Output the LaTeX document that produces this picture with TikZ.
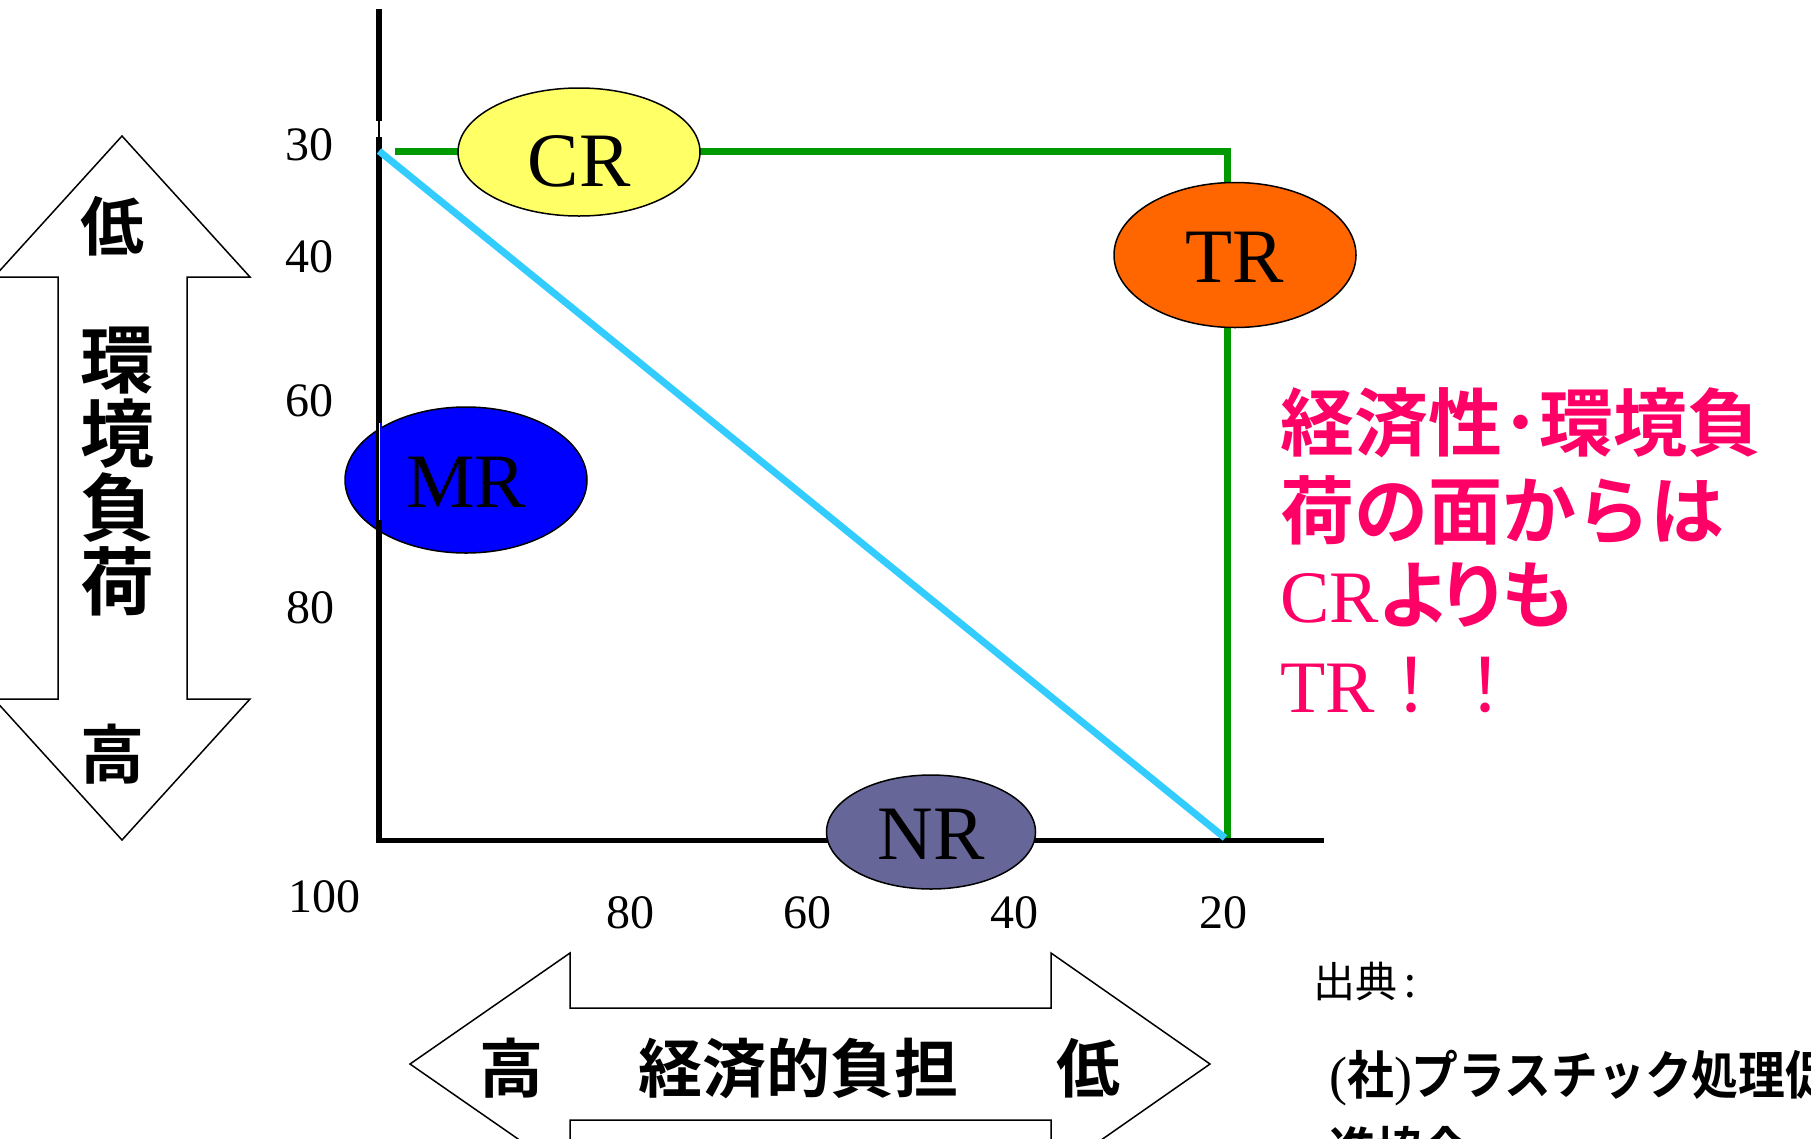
\documentclass[tikz,border=0pt]{standalone}
\usepackage{fontspec}
\setmainfont{Liberation Serif}
\newfontfamily\jpb{Noto Sans CJK JP Bold}
\newfontfamily\jpbp[RawFeature=+palt]{Noto Sans CJK JP Bold}
\newfontfamily\jpbc[FakeStretch=0.9]{Noto Sans CJK JP Bold}
\newfontfamily\jpr{Noto Sans CJK JP}
\usetikzlibrary{shapes.geometric}
\pgfdeclarelayer{bg}
\pgfsetlayers{bg,main}
\definecolor{crY}{HTML}{FFFF66}
\definecolor{trO}{HTML}{FF6600}
\definecolor{mrB}{HTML}{0000FF}
\definecolor{nrP}{HTML}{666699}
\definecolor{grn}{HTML}{009900}
\definecolor{cyn}{HTML}{33CCFF}
\definecolor{pnk}{HTML}{FF0066}
\tikzset{
  blob/.style={ellipse, draw=black, line width=1.5pt, inner sep=0pt,
    font=\fontsize{77}{80}\selectfont, text height=55pt, text depth=0pt},
  tick/.style={inner sep=0pt, font=\fontsize{48}{50}\selectfont},
  bigarrow/.style={draw=black, line width=1.5pt, fill=white, line join=miter},
  jpmid/.style={inner sep=0pt, font=\jpb\fontsize{64}{64}\selectfont},
  redline/.style={inner sep=0pt, anchor=base west, text=pnk, font=\jpb\fontsize{74}{80}\selectfont},
  axisline/.style={line width=6pt, black},
}
\begin{document}
\begin{tikzpicture}[x=1pt,y=-1pt]
\useasboundingbox (0,0) rectangle (1811,1138);
\begin{pgfonlayer}{bg}
  \fill[white] (0,0) rectangle (1811,1138);
\end{pgfonlayer}

% left vertical double arrow
\draw[bigarrow] (122,136) -- (250,277) -- (187,277) -- (187,699) -- (250,699) -- (122,840)
  -- (-6,699) -- (58,699) -- (58,277) -- (-6,277) -- cycle;
\node[jpmid] (lowL) at (112,226) {低};
\node[inner sep=0pt, align=center, font=\jpb\fontsize{74}{74}\selectfont] (envload) at (117,472) {環\\境\\負\\荷};
\node[jpmid] (highL) at (112,754) {高};

% bottom horizontal double arrow
\draw[bigarrow] (410,1064) -- (570,953) -- (570,1008) -- (1051,1008) -- (1051,953) -- (1210,1064)
  -- (1051,1175) -- (1051,1120) -- (570,1120) -- (570,1175) -- cycle;
\node[jpmid] (highB) at (511,1068) {高};
\node[jpmid] (econ) at (798,1068) {経済的負担};
\node[jpmid] (lowB) at (1088,1068) {低};

% tick labels
\node[tick] (y30) at (309,145) {30};
\node[tick] (y40) at (309,257) {40};
\node[tick] (y60) at (309,401) {60};
\node[tick] (y80) at (310,608) {80};
\node[tick] (y100) at (324,897) {100};
\node[tick] (x80) at (630,913) {80};
\node[tick] (x60) at (807,913) {60};
\node[tick] (x40) at (1014,913) {40};
\node[tick] (x20) at (1223,913) {20};

% ellipses
\node[blob, fill=crY, minimum width=242pt, minimum height=128pt, text height=68pt] (CR) at (579,152) {CR};
\node[blob, fill=trO, minimum width=242pt, minimum height=145pt] (TR) at (1235,255) {TR};
\node[blob, fill=mrB, minimum width=242pt, minimum height=146pt] (MR) at (466,480) {MR};
\node[blob, fill=nrP, minimum width=209pt, minimum height=114pt] (NR) at (931,832) {NR};

% axes and lines
\coordinate (yTop) at (379,9);
\coordinate (yGapA) at (379,121);
\coordinate (yGapB) at (379,137);
\coordinate (origin) at (379,843);
\coordinate (xStart) at (376,840);
\coordinate (xEnd) at (1324,840);
\coordinate (gStart) at (395,151);
\coordinate (gCorner) at (1227,151);
\coordinate (gEnd) at (1227,840);
\coordinate (cStart) at (379,151);
\coordinate (cEnd) at (1225,838);
\begin{pgfonlayer}{bg}
  \draw[grn, line width=7pt, line join=miter] (gStart) -- (gCorner) -- (gEnd);
  \draw[line width=5pt, black] (xStart) -- (xEnd);
\end{pgfonlayer}
\draw[axisline] (yTop) -- (yGapA);
\draw[line width=1.5pt, black] (yGapA) -- (yGapB);
\draw[axisline] (yGapB) -- (origin);
\draw[mrB, line width=2.4pt] (381,423) -- (381,520);
\draw[white, line width=1.2pt] (379.4,423) -- (379.4,520);
\draw[cyn, line width=7pt] (cStart) -- (cEnd);

% red comment
\node[redline] (red1) at (1280,450) {経済性･環境負};
\node[redline] (red2) at (1280,538) {荷の面からは};
\node[redline] (red3) at (1280,622) {{\rmfamily CR}{\jpbp よりも}};
\node[redline] (red4) at (1280,712) {{\rmfamily TR}{\jpr ！！}};

% source
\node[inner sep=0pt, anchor=base west, font=\jpr\fontsize{42}{44}\selectfont] (srcH) at (1313,997) {出典\,:};
\node[inner sep=0pt, anchor=base west, font=\jpbc\fontsize{52}{56}\selectfont] (srcA) at (1329,1094) {{\rmfamily\fontsize{54}{56}\selectfont(}社{\rmfamily\fontsize{54}{56}\selectfont)}プラスチック処理促};
\node[inner sep=0pt, anchor=base west, font=\jpbc\fontsize{52}{56}\selectfont] (srcB) at (1329,1170) {進協会};
\end{tikzpicture}
\end{document}
